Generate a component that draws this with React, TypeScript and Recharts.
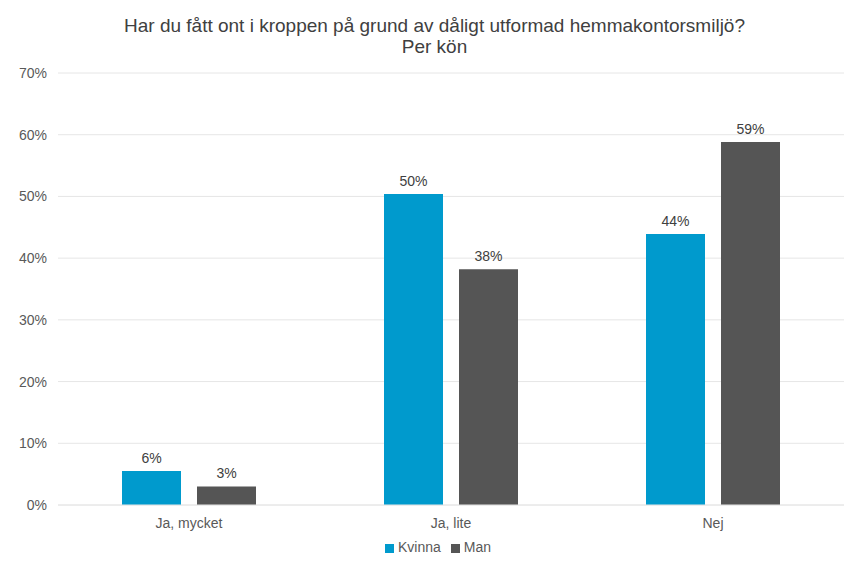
import { BarChart, Bar, XAxis, YAxis, CartesianGrid, Legend, LabelList } from "recharts";

// Svarsalternativ
const categories = ["Ja, mycket", "Ja, lite", "Nej"];
// Andel i procent per kön
const kvinnaValues = [5.5, 50.4, 43.9];
const manValues = [3.0, 38.2, 58.8];
const yTicks = [0, 10, 20, 30, 40, 50, 60, 70];

const chartData = categories.map((name, i) => ({
  name,
  Kvinna: kvinnaValues[i],
  Man: manValues[i],
}));

const FONT = "Arial, 'Liberation Sans', sans-serif";

const pct = (v: unknown) => `${Math.round(Number(v))}%`;

export default function App() {
  return (
    <div
      style={{
        position: "absolute",
        left: 0,
        top: 0,
        width: 849,
        height: 562,
        background: "#fff",
        fontFamily: FONT,
      }}
    >
      <div
        style={{
          position: "absolute",
          top: 15,
          left: 0,
          width: 869,
          textAlign: "center",
          fontSize: 19,
          lineHeight: "21px",
          color: "#404040",
        }}
      >
        Har du fått ont i kroppen på grund av dåligt utformad hemmakontorsmiljö?
        <br />
        Per kön
      </div>
      <BarChart
        width={849}
        height={562}
        data={chartData}
        margin={{ top: 73, right: 5, bottom: 0, left: 8 }}
        barGap={16}
        barCategoryGap={64}
      >
        <CartesianGrid vertical={false} stroke="#e6e6e6" />
        <XAxis
          dataKey="name"
          axisLine={{ stroke: "#e6e6e6" }}
          tickLine={false}
          tick={{ fill: "#595959", fontSize: 14, fontFamily: FONT }}
          tickMargin={7}
          height={30}
        />
        <YAxis
          domain={[0, 70]}
          ticks={yTicks}
          tickFormatter={(v) => `${v}%`}
          axisLine={false}
          tickLine={false}
          tick={{ fill: "#595959", fontSize: 14, fontFamily: FONT }}
          width={50}
          tickMargin={5}
        />
        <Legend
          verticalAlign="bottom"
          height={27}
          iconType="square"
          iconSize={9}
          wrapperStyle={{ fontSize: 14, fontFamily: FONT, color: "#595959", left: 25, bottom: -4 }}
          formatter={(value) => <span style={{ color: "#595959" }}>{value}</span>}
        />
        <Bar dataKey="Kvinna" fill="#009ACD" isAnimationActive={false}>
          <LabelList
            dataKey="Kvinna"
            position="top"
            formatter={pct}
            fill="#404040"
            fontSize={14}
            fontFamily={FONT}
            offset={8}
          />
        </Bar>
        <Bar dataKey="Man" fill="#555555" isAnimationActive={false}>
          <LabelList
            dataKey="Man"
            position="top"
            formatter={pct}
            fill="#404040"
            fontSize={14}
            fontFamily={FONT}
            offset={8}
          />
        </Bar>
      </BarChart>
    </div>
  );
}
